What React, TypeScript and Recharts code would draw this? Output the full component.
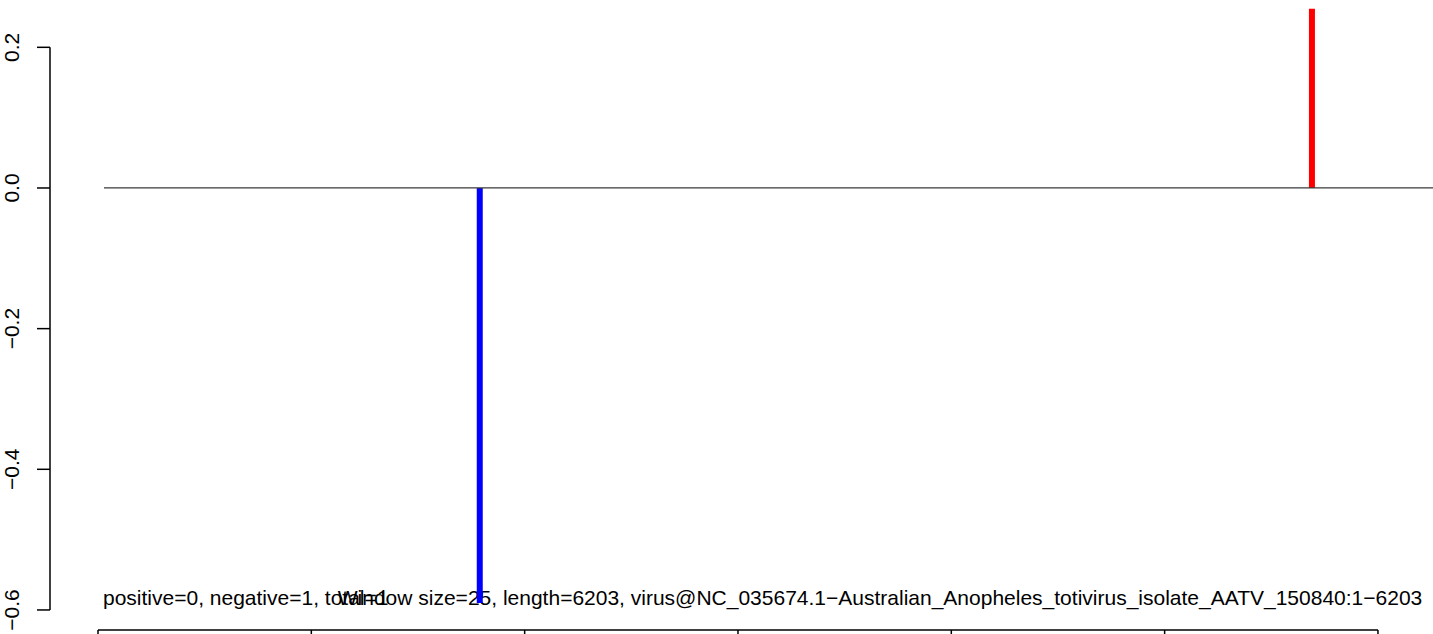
import React from "react";
import {
  ComposedChart,
  Bar,
  Cell,
  XAxis,
  YAxis,
  ReferenceLine,
} from "recharts";

// ---- data ----
const positions = [1790, 5691];
const values = [-0.59, 0.255];
const yTicks = [-0.6, -0.4, -0.2, 0, 0.2];
const yTickLabels = ["\u22120.6", "\u22120.4", "\u22120.2", "0.0", "0.2"];
const xTicks = [0, 1000, 2000, 3000, 4000, 5000, 6000];
const zeroLineRange = [28, 6258];
const countsText = "positive=0, negative=1, total=1";
const titleText =
  "Window size=25, length=6203, virus@NC_035674.1\u2212Australian_Anopheles_totivirus_isolate_AATV_150840:1\u22126203";

const data = positions.map((p, i) => ({ pos: p, value: values[i] }));

const FONT = "'Liberation Sans', Arial, Helvetica, sans-serif";
const FS = 21;
const X_DOMAIN: [number, number] = [-225, 6258];
const Y_DOMAIN: [number, number] = [-0.6285, 0.2559];

const YTick = (props: any) => {
  const { x, y, payload } = props;
  const idx = yTicks.indexOf(payload.value);
  const label = idx >= 0 ? yTickLabels[idx] : String(payload.value);
  return (
    <text
      x={x}
      y={y}
      transform={`rotate(-90, ${x}, ${y})`}
      textAnchor="middle"
      fontFamily={FONT}
      fontSize={FS}
      fill="#000"
    >
      {label}
    </text>
  );
};

const EmptyTick = () => <g />;

export default function App() {
  return (
    <div
      style={{
        position: "absolute",
        left: 0,
        top: 0,
        width: 1433,
        height: 634,
        overflow: "hidden",
        background: "#fff",
      }}
    >
      <ComposedChart
        width={1433}
        height={700}
        data={data}
        margin={{ top: 8, right: 0, bottom: 30, left: 0 }}
      >
        <XAxis
          type="number"
          dataKey="pos"
          domain={X_DOMAIN}
          ticks={xTicks}
          axisLine={false}
          tickSize={13}
          tick={<EmptyTick />}
          tickLine={{ stroke: "#000", strokeWidth: 1.5 }}
          height={40}
          interval={0}
        />
        <YAxis
          type="number"
          domain={Y_DOMAIN}
          ticks={yTicks}
          width={50}
          axisLine={false}
          tickSize={13}
          tickMargin={18}
          tickLine={{ stroke: "#000", strokeWidth: 1.5 }}
          tick={<YTick />}
          interval={0}
        />
        <ReferenceLine
          segment={[
            { x: X_DOMAIN[0], y: yTicks[0] },
            { x: X_DOMAIN[0], y: yTicks[yTicks.length - 1] },
          ]}
          stroke="#000"
          strokeWidth={1.5}
          ifOverflow="visible"
        />
        <ReferenceLine
          segment={[
            { x: xTicks[0], y: Y_DOMAIN[0] },
            { x: xTicks[xTicks.length - 1], y: Y_DOMAIN[0] },
          ]}
          stroke="#000"
          strokeWidth={1.5}
          ifOverflow="visible"
        />
        <ReferenceLine
          segment={[
            { x: zeroLineRange[0], y: 0 },
            { x: zeroLineRange[1], y: 0 },
          ]}
          stroke="#3a3a3a"
          strokeWidth={1.2}
          ifOverflow="visible"
        />
        <Bar dataKey="value" barSize={6} isAnimationActive={false}>
          {data.map((d, i) => (
            <Cell key={i} fill={d.value > 0 ? "#ff0000" : "#0000ff"} />
          ))}
        </Bar>
        <text x={103} y={605} fontFamily={FONT} fontSize={FS} fill="#000">
          {countsText}
        </text>
        <text
          x={880}
          y={605}
          textAnchor="middle"
          fontFamily={FONT}
          fontSize={FS}
          fill="#000"
        >
          {titleText}
        </text>
      </ComposedChart>
    </div>
  );
}
